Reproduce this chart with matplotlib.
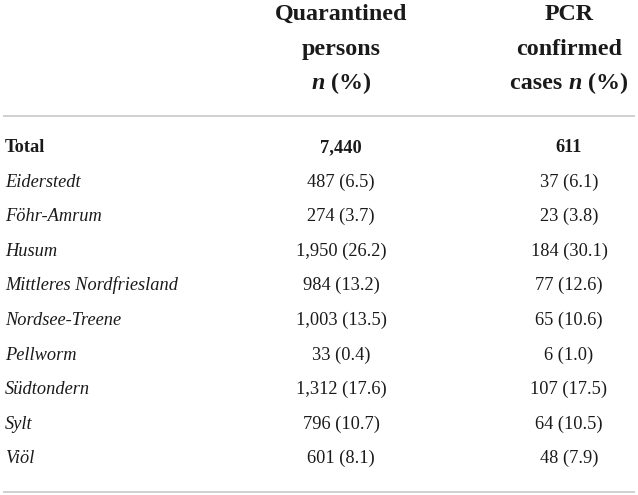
import matplotlib
matplotlib.use("Agg")
import matplotlib.pyplot as plt

regions = ["Eiderstedt", "Föhr-Amrum", "Husum", "Mittleres Nordfriesland",
           "Nordsee-Treene", "Pellworm", "Südtondern", "Sylt", "Viöl"]
quarantined = ["487 (6.5)", "274 (3.7)", "1,950 (26.2)", "984 (13.2)",
               "1,003 (13.5)", "33 (0.4)", "1,312 (17.6)", "796 (10.7)", "601 (8.1)"]
pcr = ["37 (6.1)", "23 (3.8)", "184 (30.1)", "77 (12.6)",
       "65 (10.6)", "6 (1.0)", "107 (17.5)", "64 (10.5)", "48 (7.9)"]
total_label = "Total"
total_quarantined = "7,440"
total_pcr = "611"

W, H = 638, 495
fig = plt.figure(figsize=(W / 100, H / 100), dpi=100)
ax = fig.add_axes([0, 0, 1, 1])
ax.set_xlim(0, W)
ax.set_ylim(H, 0)
ax.axis("off")
renderer = fig.canvas.get_renderer()

FONT = "Liberation Serif"
FS = 13.2
HFS = 17.3
c1, c2 = 341, 569
txt = "#1a1a1a"


def seg_line(x_center, y, segs, size):
    """segs: list of (text, style, weight); drawn centered at x_center, baseline y."""
    objs = []
    for s, st, wt in segs:
        t = ax.text(0, y, s, ha="left", va="baseline", fontsize=size,
                    style=st, fontweight=wt, family=FONT, color=txt)
        objs.append(t)
    widths = [o.get_window_extent(renderer).width for o in objs]
    x = x_center - sum(widths) / 2
    for o, w in zip(objs, widths):
        o.set_x(x)
        x += w


# header
seg_line(c1, 20, [("Quarantined", "normal", "bold")], HFS)
seg_line(c1, 55, [("persons", "normal", "bold")], HFS)
seg_line(c1, 89, [("n", "italic", "bold"), (" (%)", "normal", "bold")], HFS)
seg_line(c2, 20, [("PCR", "normal", "bold")], HFS)
seg_line(c2, 55, [("confirmed", "normal", "bold")], HFS)
seg_line(c2, 89, [("cases ", "normal", "bold"), ("n", "italic", "bold"), (" (%)", "normal", "bold")], HFS)

ax.plot([3, 635], [116, 116], color="#c8c8c8", lw=1.2, solid_capstyle="butt")
ax.plot([3, 635], [492, 492], color="#c8c8c8", lw=1.2, solid_capstyle="butt")

y0, dy = 152, 34.6
ax.text(5, y0, total_label, ha="left", va="baseline", fontsize=FS, fontweight="bold", family=FONT, color=txt)
ax.text(c1, y0, total_quarantined, ha="center", va="baseline", fontsize=FS, fontweight="bold", family=FONT, color=txt)
ax.text(c2, y0, total_pcr, ha="center", va="baseline", fontsize=FS, fontweight="bold", family=FONT, color=txt)
for i, (r, q, p) in enumerate(zip(regions, quarantined, pcr)):
    y = y0 + dy * (i + 1)
    ax.text(5, y, r, ha="left", va="baseline", fontsize=FS, style="italic", family=FONT, color=txt)
    ax.text(c1, y, q, ha="center", va="baseline", fontsize=FS, family=FONT, color=txt)
    ax.text(c2, y, p, ha="center", va="baseline", fontsize=FS, family=FONT, color=txt)

fig.savefig("out.png", dpi=100)
